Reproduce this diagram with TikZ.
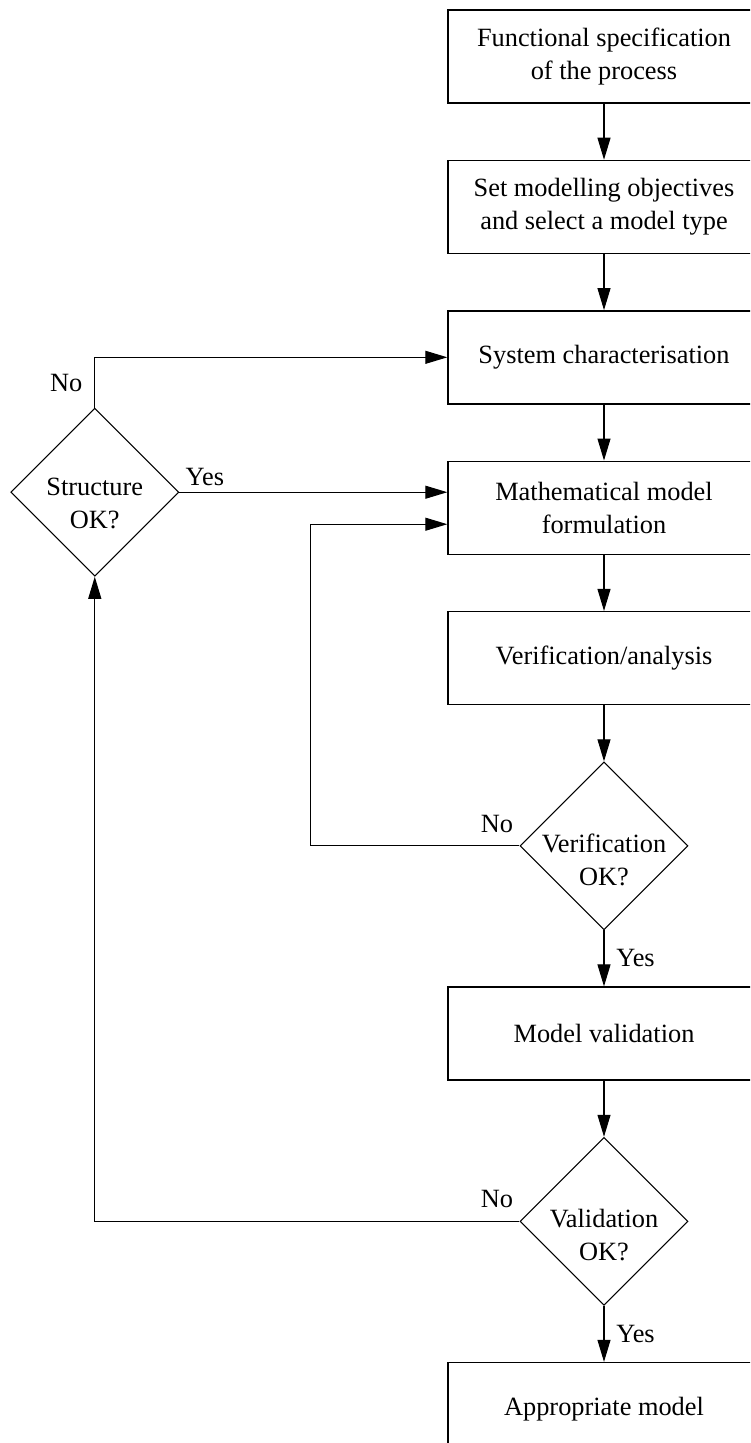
\documentclass[tikz,border=0pt]{standalone}
\usepackage{fontspec}
\setmainfont{Liberation Serif}
\usetikzlibrary{arrows.meta,positioning,shapes.geometric}

\begin{document}
\begin{tikzpicture}[>={Triangle[length=0.44cm,width=0.26cm]},
  every node/.style={font=\fontsize{15}{18.8}\selectfont},
  stagebox/.style={draw,line width=0.8pt,minimum width=6.24cm,minimum height=1.86cm,align=center,inner sep=0pt},
  decision/.style={draw,diamond,aspect=1,line width=0.6pt,minimum width=3.36cm,minimum height=3.36cm,inner sep=0pt},
  dtext/.style={align=center,yshift=-0.28cm},
  flow/.style={->,line width=0.6pt},
  nolabel/.style={above left,yshift=0.14cm}]
  \useasboundingbox (0,0) rectangle (15,-28.86);
  \clip (0,0) rectangle (15,-28.86);
  % main column
  \node[stagebox] (spec) at (12.08,-1.13) {Functional specification\\of the process};
  \node[stagebox,below=1.12cm of spec] (objectives) {Set modelling objectives\\and select a model type};
  \node[stagebox,below=1.12cm of objectives] (charact) {System characterisation};
  \node[stagebox,below=1.12cm of charact] (formul) {Mathematical model\\formulation};
  \node[stagebox,below=1.12cm of formul] (analysis) {Verification/analysis};
  \node[decision,below=1.12cm of analysis,label={[dtext]center:Verification\\OK?}] (verifok) {};
  \node[stagebox,below=1.12cm of verifok] (validation) {Model validation};
  \node[decision,below=1.12cm of validation,label={[dtext]center:Validation\\OK?}] (validok) {};
  \node[stagebox,below=1.12cm of validok] (model) {Appropriate model};
  % structure check on the left
  \node[decision,left=5.36cm of formul,yshift=0.31cm,label={[dtext,yshift=0.06cm]center:Structure\\OK?}] (struct) {};

  \draw[flow] (spec) -- (objectives);
  \draw[flow] (objectives) -- (charact);
  \draw[flow] (charact) -- (formul);
  \draw[flow] (formul) -- (analysis);
  \draw[flow] (analysis) -- (verifok);
  \draw[flow] (verifok) -- node[right=0.12cm]{Yes} (validation);
  \draw[flow] (validation) -- (validok);
  \draw[flow] (validok) -- node[right=0.12cm]{Yes} (model);
  % loops back
  \draw[flow] (verifok.west) node[nolabel]{No} -- ++(-4.18,0) |- ([yshift=-0.33cm]formul.west);
  \draw[flow] (validok.west) node[nolabel]{No} -| (struct.south);
  \draw[flow] (struct.north) |- node[pos=0.25,left=0.12cm]{No} (charact.west);
  \draw[flow] (struct.east) node[above right]{Yes} -- (struct.east -| formul.west);
\end{tikzpicture}
\end{document}
